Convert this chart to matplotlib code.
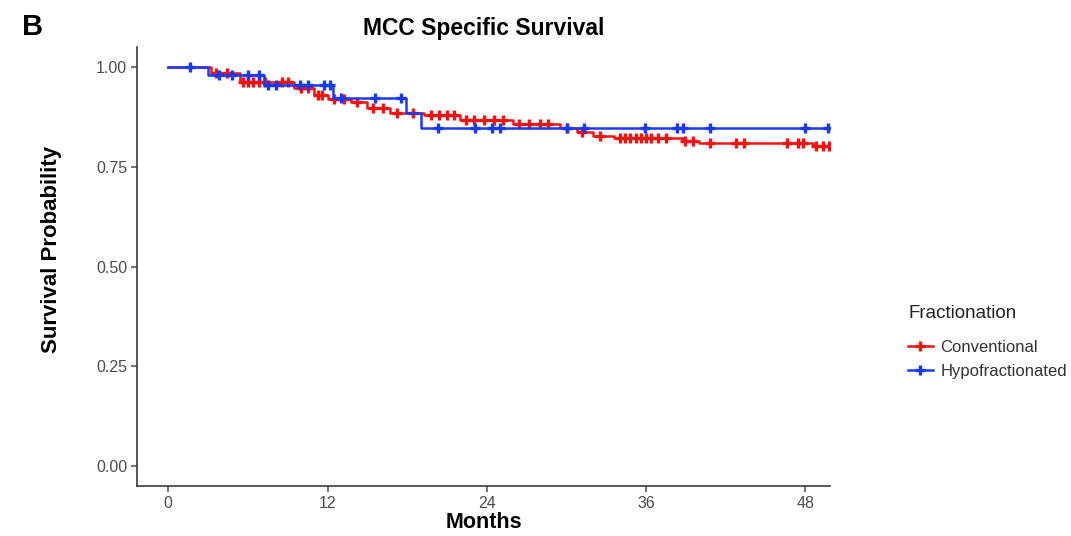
import numpy as np
import matplotlib.pyplot as plt

plt.rcParams['font.family'] = ['Liberation Sans', 'DejaVu Sans']

# Kaplan-Meier step data (months, survival probability)
conv_times = [0, 3.2, 5.4, 9.5, 11.0, 12.0, 13.8, 15.0, 16.7, 19.3, 22.0, 26.0,
              29.5, 30.8, 32.0, 33.6, 38.8, 40.0, 48.6]
conv_surv = [1.0, 0.985, 0.962, 0.947, 0.93, 0.92, 0.912, 0.897, 0.885, 0.879,
             0.867, 0.857, 0.847, 0.837, 0.828, 0.822, 0.816, 0.81, 0.802]
conv_censor = [3.6, 4.4, 5.6, 6.0, 6.4, 6.8, 7.3, 8.6, 9.0, 10.0, 10.5, 11.3,
               11.6, 12.5, 13.2, 14.2, 15.4, 16.2, 17.2, 18.4, 19.8, 20.4, 21.0,
               21.5, 22.4, 23.0, 23.8, 24.5, 25.2, 26.4, 27.2, 28.0, 28.6, 30.0,
               31.2, 32.5, 34.0, 34.4, 34.8, 35.2, 35.6, 36.0, 36.4, 36.9, 37.5,
               38.9, 39.5, 40.8, 42.8, 43.4, 46.6, 47.4, 47.8, 48.8, 49.3, 49.8]

hypo_times = [0, 3.0, 7.2, 12.4, 17.9, 19.0]
hypo_surv = [1.0, 0.98, 0.955, 0.922, 0.886, 0.847]
hypo_censor = [1.6, 3.8, 4.8, 6.0, 6.8, 7.5, 8.1, 9.9, 10.5, 11.7, 12.2, 13.0,
               15.6, 17.5, 20.3, 23.1, 24.4, 25.0, 30.0, 31.3, 35.9, 38.3, 38.8,
               40.8, 48.0, 49.7]

groups = ['Conventional', 'Hypofractionated']
colors = ['#ee1414', '#1a3af2']
month_ticks = [0, 12, 24, 36, 48]
prob_ticks = [0.00, 0.25, 0.50, 0.75, 1.00]


def surv_at(times, surv, t):
    idx = np.searchsorted(times, t, side='right') - 1
    return np.asarray(surv)[idx]


fig = plt.figure(figsize=(10.71, 5.36), dpi=100)
ax = fig.add_axes([0.128, 0.093, 0.647, 0.819])

handles = []
for times, surv, cens, col, name in [
        (conv_times, conv_surv, conv_censor, colors[0], groups[0]),
        (hypo_times, hypo_surv, hypo_censor, colors[1], groups[1])]:
    t_end = max(cens)
    st = list(times) + [t_end]
    sv = list(surv) + [surv[-1]]
    ax.step(st, sv, where='post', color=col, linewidth=1.8)
    ax.plot(cens, surv_at(times, surv, np.array(cens)), linestyle='none',
            marker='+', markersize=7, markeredgewidth=2.4, color=col)
    h, = ax.plot([], [], color=col, linewidth=1.8, marker='+', markersize=7,
                 markeredgewidth=2.4, label=name)
    handles.append(h)

ax.set_xlim(-2.35, 49.85)
ax.set_ylim(-0.05, 1.05)
ax.set_xticks(month_ticks)
ax.set_yticks(prob_ticks)
ax.set_yticklabels([f'{v:.2f}' for v in prob_ticks])

for side in ['top', 'right']:
    ax.spines[side].set_visible(False)
for side in ['left', 'bottom']:
    ax.spines[side].set_color('#3a3a3a')
    ax.spines[side].set_linewidth(1.2)
ax.tick_params(colors='#4d4d4d', labelsize=11.5, length=4, width=1.1, pad=3)

ax.set_xlabel('Months', fontsize=15.5, fontweight='bold', labelpad=1)
ax.set_ylabel('Survival Probability', fontsize=16, fontweight='bold')
ax.yaxis.set_label_coords(-0.108, 0.54)
ax.set_title('MCC Specific Survival', fontsize=16.5, fontweight='bold', pad=9)

fig.text(0.021, 0.935, 'B', fontsize=21, fontweight='bold')

# legend title drawn separately so its gap to the entries can be set
fig.text(908 / 1071, 1 - 314 / 536, 'Fractionation', fontsize=13.5,
         color='#222222', va='center', ha='left')
leg = fig.legend(handles=handles, loc='upper left',
                 bbox_to_anchor=(896 / 1071, 1 - 328 / 536), frameon=False,
                 fontsize=12, handlelength=1.5, handletextpad=0.45,
                 labelspacing=0.55, borderpad=0.2)
for txt in leg.get_texts():
    txt.set_color('#333333')

fig.savefig('out.png', dpi=100)
